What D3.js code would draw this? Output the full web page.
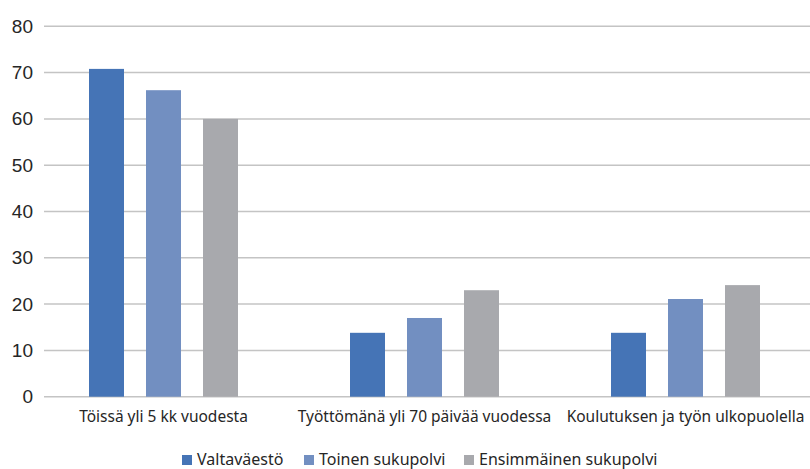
<!DOCTYPE html>
<html><head><meta charset="utf-8">
<script src="https://cdn.jsdelivr.net/npm/d3@7"></script>
<style>body{margin:0;background:#fff}svg{display:block}</style>
</head><body>
<svg id="c" width="810" height="469"></svg>
<script>
const categories = ["Töissä yli 5 kk vuodesta", "Työttömänä yli 70 päivää vuodessa", "Koulutuksen ja työn ulkopuolella"];
const seriesNames = ["Valtaväestö", "Toinen sukupolvi", "Ensimmäinen sukupolvi"];
const valtavaesto = [70.8, 13.8, 13.8];
const toinen = [66.2, 17.0, 21.1];
const ensimmainen = [60.0, 23.0, 24.1];
const yTicks = [0, 10, 20, 30, 40, 50, 60, 70, 80];
const colors = ["#4574b6", "#728fc1", "#a8a9ad"];

const seriesValues = [valtavaesto, toinen, ensimmainen];
const svg = d3.select("#c");
const y = d3.scaleLinear().domain([0, 80]).range([396.7, 26.3]);
const x0 = d3.scaleBand().domain(categories).range([33, 816]);
const x1 = d3.scaleBand().domain(seriesNames).range([0, 149]).paddingInner(22/57).paddingOuter(0);

// gridlines
svg.append("g").selectAll("line").data(yTicks).join("line")
  .attr("x1", 44).attr("x2", 810)
  .attr("y1", d => y(d)).attr("y2", d => y(d))
  .attr("stroke", "#c4c4c4").attr("stroke-width", 1.5);

// y tick labels
svg.append("g").selectAll("text").data(yTicks).join("text")
  .attr("x", 33).attr("y", d => y(d) + 6.5)
  .attr("text-anchor", "end")
  .attr("font-family", "Liberation Sans, Arial, sans-serif")
  .attr("font-size", 19).attr("fill", "#262626")
  .text(d => d);

// bars
const groups = svg.append("g").selectAll("g").data(categories).join("g")
  .attr("transform", c => `translate(${x0(c) + x0.bandwidth()/2 - 74.5},0)`);
groups.selectAll("rect").data((c, i) => seriesNames.map((s, j) => ({s, v: seriesValues[j][i], j})))
  .join("rect")
  .attr("x", d => x1(d.s)).attr("width", x1.bandwidth())
  .attr("y", d => y(d.v)).attr("height", d => y(0) - y(d.v))
  .attr("fill", d => colors[d.j]);

// category labels
svg.append("g").selectAll("text").data(categories).join("text")
  .attr("x", c => x0(c) + x0.bandwidth()/2).attr("y", 422)
  .attr("text-anchor", "middle")
  .attr("font-family", "Noto Sans, sans-serif")
  .attr("font-size", 15.5).attr("fill", "#262626")
  .text(c => c);

// legend
const legX = [182, 304, 464];
const leg = svg.append("g").selectAll("g").data(seriesNames).join("g")
  .attr("transform", (d, i) => `translate(${legX[i]},0)`);
leg.append("rect").attr("x", 0).attr("y", 455).attr("width", 10).attr("height", 10)
  .attr("fill", (d, i) => colors[i]);
leg.append("text").attr("x", 15).attr("y", 465)
  .attr("font-family", "Noto Sans, sans-serif")
  .attr("font-size", 16).attr("fill", "#262626")
  .text(d => d);
</script>
</body></html>
